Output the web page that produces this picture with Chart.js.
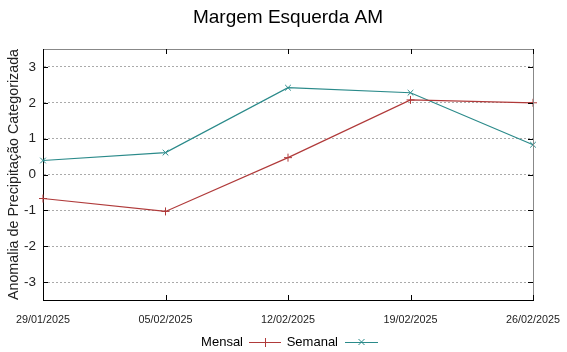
<!DOCTYPE html>
<html>
<head>
<meta charset="utf-8">
<script src="https://cdn.jsdelivr.net/npm/chart.js@4"></script>
<style>
  html, body { margin: 0; padding: 0; background: #fff; }
  #wrap { width: 567px; height: 352px; }
</style>
</head>
<body>
<div id="wrap"><canvas id="grafico" width="567" height="352"></canvas></div>
<script>
// Datas das semanas e anomalias categorizadas
const datas = ["29/01/2025", "05/02/2025", "12/02/2025", "19/02/2025", "26/02/2025"];
const mensal = [-0.67, -1.03, 0.47, 2.08, 2.0];
const semanal = [0.39, 0.61, 2.42, 2.28, 0.83];
const ticksY = [-3, -2, -1, 0, 1, 2, 3];

const corMensal = "#b03a3a";
const corSemanal = "#2a8a8a";
const fonte = "'Liberation Sans', Arial, sans-serif";

// Título, moldura cinza, marcas internas e legenda no rodapé
const molduraPlugin = {
  id: "moldura",
  afterDraw(chart) {
    const ctx = chart.ctx;
    const a = chart.chartArea;
    const sx = chart.scales.x;
    const sy = chart.scales.y;
    ctx.save();

    // título
    ctx.fillStyle = "#000";
    ctx.font = "19px " + fonte;
    ctx.textAlign = "center";
    ctx.textBaseline = "middle";
    ctx.fillText("Margem Esquerda AM", 288, 18);

    // bordas superior e direita
    ctx.strokeStyle = "#888";
    ctx.lineWidth = 1;
    ctx.beginPath();
    ctx.moveTo(a.left, a.top + 0.5);
    ctx.lineTo(a.right + 0.5, a.top + 0.5);
    ctx.lineTo(a.right + 0.5, a.bottom);
    ctx.stroke();

    // marcas para dentro
    ctx.strokeStyle = "#000";
    ctx.beginPath();
    datas.forEach((d, i) => {
      const x = Math.round(sx.getPixelForTick(i)) + 0.5;
      ctx.moveTo(x, a.bottom);
      ctx.lineTo(x, a.bottom - 5);
      ctx.moveTo(x, a.top);
      ctx.lineTo(x, a.top + 5);
    });
    ticksY.forEach(v => {
      const y = Math.round(sy.getPixelForValue(v)) + 0.5;
      ctx.moveTo(a.right, y);
      ctx.lineTo(a.right - 5, y);
      ctx.moveTo(a.left, y);
      ctx.lineTo(a.left + 5, y);
    });
    ctx.stroke();

    // legenda
    const yl = 342;
    ctx.font = "13px " + fonte;
    ctx.textAlign = "right";
    ctx.fillStyle = "#000";
    ctx.fillText("Mensal", 243, yl);
    ctx.fillText("Semanal", 338, yl);

    ctx.lineWidth = 1;
    ctx.strokeStyle = corMensal;
    ctx.beginPath();
    ctx.moveTo(249, yl + 0.5);
    ctx.lineTo(281, yl + 0.5);
    ctx.moveTo(265.5, yl - 4);
    ctx.lineTo(265.5, yl + 5);
    ctx.stroke();

    ctx.strokeStyle = corSemanal;
    ctx.beginPath();
    ctx.moveTo(345, yl + 0.5);
    ctx.lineTo(378, yl + 0.5);
    ctx.moveTo(358.5, yl - 3);
    ctx.lineTo(364.5, yl + 3);
    ctx.moveTo(364.5, yl - 3);
    ctx.lineTo(358.5, yl + 3);
    ctx.stroke();

    ctx.restore();
  }
};

new Chart(document.getElementById("grafico"), {
  type: "line",
  data: {
    labels: datas,
    datasets: [
      {
        label: "Mensal",
        data: mensal,
        borderColor: corMensal,
        backgroundColor: corMensal,
        borderWidth: 1.2,
        tension: 0,
        pointStyle: "cross",
        pointRadius: 4,
        pointBorderWidth: 1,
      },
      {
        label: "Semanal",
        data: semanal,
        borderColor: corSemanal,
        backgroundColor: corSemanal,
        borderWidth: 1.2,
        tension: 0,
        pointStyle: "crossRot",
        pointRadius: 4,
        pointBorderWidth: 1,
      },
    ],
  },
  options: {
    responsive: false,
    animation: false,
    layout: { padding: { top: 49, right: 34, left: 0, bottom: 0 } },
    plugins: {
      legend: { display: false },
      title: { display: false },
      tooltip: { enabled: false },
    },
    scales: {
      x: {
        type: "category",
        offset: false,
        grid: { drawOnChartArea: false, drawTicks: false },
        border: { color: "#000", width: 1 },
        ticks: {
          color: "#222",
          padding: 14,
          maxRotation: 0,
          autoSkip: false,
          font: { family: fonte, size: 10.8 },
        },
        afterFit(scale) {
          scale.height = 52;
          scale.paddingLeft = 0;
          scale.paddingRight = 0;
        },
      },
      y: {
        min: -3.5,
        max: 3.5,
        afterBuildTicks(scale) {
          scale.ticks = ticksY.map(v => ({ value: v }));
        },
        grid: { color: "#aaa", lineWidth: 1, drawTicks: false },
        border: { color: "#000", width: 1, dash: [2, 2] },
        ticks: {
          color: "#222",
          padding: 7,
          font: { family: fonte, size: 13.5 },
        },
        title: {
          display: true,
          text: "Anomalia de Precipitação Categorizada",
          color: "#222",
          padding: { top: 5, bottom: 0 },
          font: { family: fonte, size: 14.3 },
        },
        afterFit(scale) { scale.width = 43; },
      },
    },
  },
  plugins: [molduraPlugin],
});
</script>
</body>
</html>
